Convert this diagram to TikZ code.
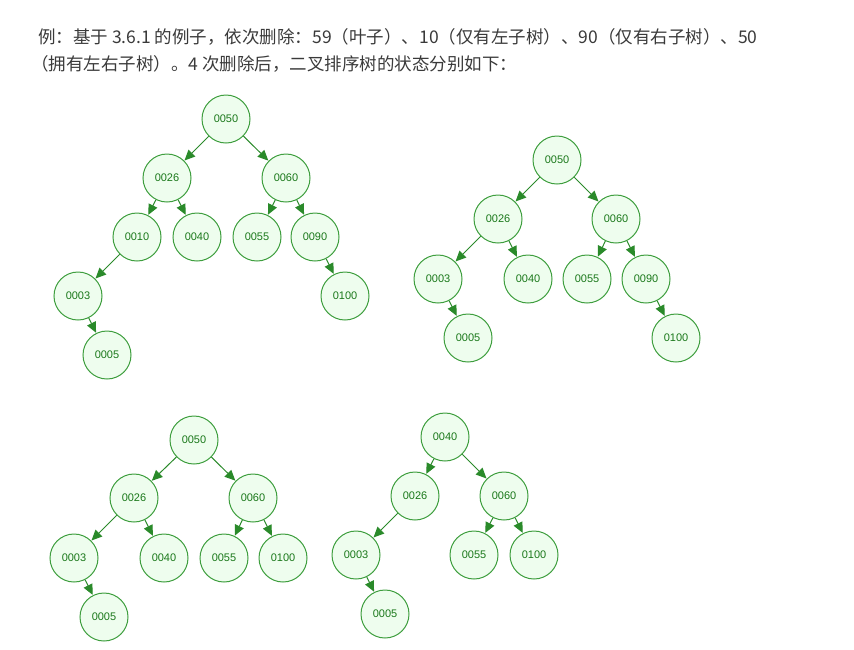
\documentclass[tikz,border=0pt]{standalone}
\usepackage{fontspec}
\setmainfont{Liberation Sans}
\newfontfamily\cjkfont{Noto Sans CJK SC}
\usetikzlibrary{arrows.meta}
\definecolor{nodeline}{HTML}{3E9E3E}
\definecolor{nodefill}{HTML}{EEFDEE}
\definecolor{nodetext}{HTML}{1A781A}
\definecolor{edgecol}{HTML}{2A8A2A}
\definecolor{bodytext}{HTML}{3A3A3A}

\begin{document}
\begin{tikzpicture}[x=1pt,y=-1pt,
	bst/.style={circle, draw=nodeline, fill=nodefill, line width=1pt, minimum size=48pt, inner sep=0pt, text=nodetext, font=\fontsize{11}{12}\selectfont},
	edge/.style={-{Triangle[length=10.5pt,width=9.5pt]}, draw=edgecol, line width=1pt, shorten >=0.3pt},
	para/.style={anchor=base west, inner sep=0pt, text=bodytext, font=\cjkfont\fontsize{17.5}{20}\selectfont}]
			\useasboundingbox (0,0) rectangle (854,649);
			\node[para] (line1) at (38,43.5) {例：基于 3.6.1 的例子，依次删除：59（叶子）、10（仅有左子树）、90（仅有右子树）、50};
			\node[para] (line2) at (31,70.5) {（拥有左右子树）。4 次删除后，二叉排序树的状态分别如下：};
			% tree 1
			\node[bst] (a50) at (226,119) {0050};
			\node[bst] (a26) at (167,178) {0026};
			\node[bst] (a60) at (286,178) {0060};
			\node[bst] (a10) at (137,237) {0010};
			\node[bst] (a40) at (197,237) {0040};
			\node[bst] (a55) at (257,237) {0055};
			\node[bst] (a90) at (315,237) {0090};
			\node[bst] (a03) at (78,296) {0003};
			\node[bst] (a100) at (345,296) {0100};
			\node[bst] (a05) at (107,355) {0005};
			\draw[edge] (a50) -- (a26);
			\draw[edge] (a50) -- (a60);
			\draw[edge] (a26) -- (a10);
			\draw[edge] (a26) -- (a40);
			\draw[edge] (a60) -- (a55);
			\draw[edge] (a60) -- (a90);
			\draw[edge] (a10) -- (a03);
			\draw[edge] (a90) -- (a100);
			\draw[edge] (a03) -- (a05);
			% tree 2
			\node[bst] (b50) at (557,160) {0050};
			\node[bst] (b26) at (498,219) {0026};
			\node[bst] (b60) at (616,219) {0060};
			\node[bst] (b03) at (438,279) {0003};
			\node[bst] (b40) at (528,279) {0040};
			\node[bst] (b55) at (587,279) {0055};
			\node[bst] (b90) at (646,279) {0090};
			\node[bst] (b05) at (468,338) {0005};
			\node[bst] (b100) at (676,338) {0100};
			\draw[edge] (b50) -- (b26);
			\draw[edge] (b50) -- (b60);
			\draw[edge] (b26) -- (b03);
			\draw[edge] (b26) -- (b40);
			\draw[edge] (b60) -- (b55);
			\draw[edge] (b60) -- (b90);
			\draw[edge] (b03) -- (b05);
			\draw[edge] (b90) -- (b100);
			% tree 3
			\node[bst] (c50) at (194,440) {0050};
			\node[bst] (c26) at (134,498) {0026};
			\node[bst] (c60) at (253,498) {0060};
			\node[bst] (c03) at (74,558) {0003};
			\node[bst] (c40) at (164,558) {0040};
			\node[bst] (c55) at (224,558) {0055};
			\node[bst] (c100) at (283,558) {0100};
			\node[bst] (c05) at (104,617) {0005};
			\draw[edge] (c50) -- (c26);
			\draw[edge] (c50) -- (c60);
			\draw[edge] (c26) -- (c03);
			\draw[edge] (c26) -- (c40);
			\draw[edge] (c60) -- (c55);
			\draw[edge] (c60) -- (c100);
			\draw[edge] (c03) -- (c05);
			% tree 4
			\node[bst] (d40) at (445,437) {0040};
			\node[bst] (d26) at (415,496) {0026};
			\node[bst] (d60) at (504,496) {0060};
			\node[bst] (d03) at (356,555) {0003};
			\node[bst] (d55) at (474,555) {0055};
			\node[bst] (d100) at (534,555) {0100};
			\node[bst] (d05) at (385,614) {0005};
			\draw[edge] (d40) -- (d26);
			\draw[edge] (d40) -- (d60);
			\draw[edge] (d26) -- (d03);
			\draw[edge] (d60) -- (d55);
			\draw[edge] (d60) -- (d100);
			\draw[edge] (d03) -- (d05);
		\end{tikzpicture}
\end{document}
